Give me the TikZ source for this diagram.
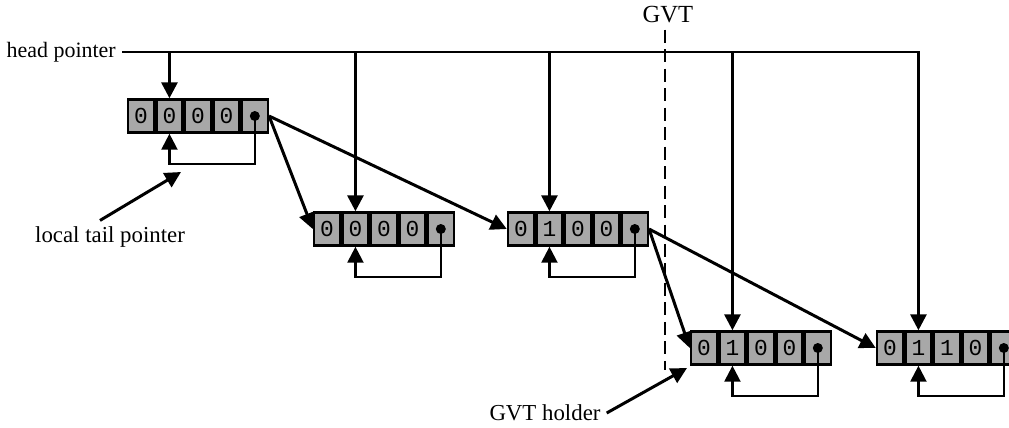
\documentclass[tikz,border=0pt]{standalone}
\usepackage{fontspec}
\setmainfont{Liberation Serif}
\setmonofont{Liberation Mono}
\usetikzlibrary{arrows.meta,positioning}
\definecolor{cellgray}{HTML}{A8A8A8}

\begin{document}
\begin{tikzpicture}[x=0.02cm,y=-0.02cm,every node/.style={font=\fontsize{13}{15}\selectfont},
 cell/.style={draw=black,line width=1.4pt,fill=cellgray,minimum width=0.52cm,minimum height=0.66cm,inner sep=0pt,font=\fontsize{13}{15}\selectfont\ttfamily},
 arr/.style={-{Triangle[length=0.32cm,width=0.32cm]},line width=1.7pt},
 tailarr/.style={-{Triangle[length=0.32cm,width=0.32cm]},line width=1.3pt},
 gvtline/.style={line width=1.6pt,dash pattern=on 0.26cm off 0.13cm}]
\useasboundingbox (0,0) rectangle (1009,427);
\clip (0,0) rectangle (1009,427);
% records: cells, dot and local tail loop
\foreach \r/\x/\y/\a/\b/\c/\d in {1/141/116/0/0/0/0,2/327/229/0/0/0/0,3/521/229/0/1/0/0,4/704/348/0/1/0/0,5/890/348/0/1/1/0}{
 \node[cell](r\r-a) at (\x,\y){\a};
 \node[cell,right=0pt of r\r-a](r\r-b){\b};
 \node[cell,right=0pt of r\r-b](r\r-c){\c};
 \node[cell,right=0pt of r\r-c](r\r-d){\d};
 \node[cell,right=0pt of r\r-d](r\r-e){};
 \fill (r\r-e.center) circle (0.1cm);
 \draw[tailarr](r\r-e.center)--++(0,48)-|(r\r-b.south);
}
% head pointer
\node[anchor=east,font=\fontsize{12.5}{15}\selectfont](head) at (122,52){head pointer};
\draw[arr](head.east)-|(r5-b.north);
\foreach \r in {1,...,4}{\draw[arr](r\r-b.north|-head.east)--(r\r-b.north);}
% next pointers
\foreach \x/\y in {1/2,1/3,3/4,3/5}{\draw[arr](r\x-e.east)--(r\y-a.west);}
% GVT
\node[font=\fontsize{14}{16}\selectfont](gvt) at (668,15){GVT};
\coordinate(gvtend) at (665,370);
\draw[gvtline](gvt.south-|gvtend)--(gvtend);
\node(holder) at (545,413){GVT holder};
\coordinate(holdtip) at (687,368);
\draw[arr](holder.east)--(holdtip);
% local tail pointer
\node(ltp) at (110,237){local tail pointer};
\coordinate(ltptip) at (181,172);
\draw[arr]([xshift=-0.2cm]ltp.north)--(ltptip);
\end{tikzpicture}
\end{document}
